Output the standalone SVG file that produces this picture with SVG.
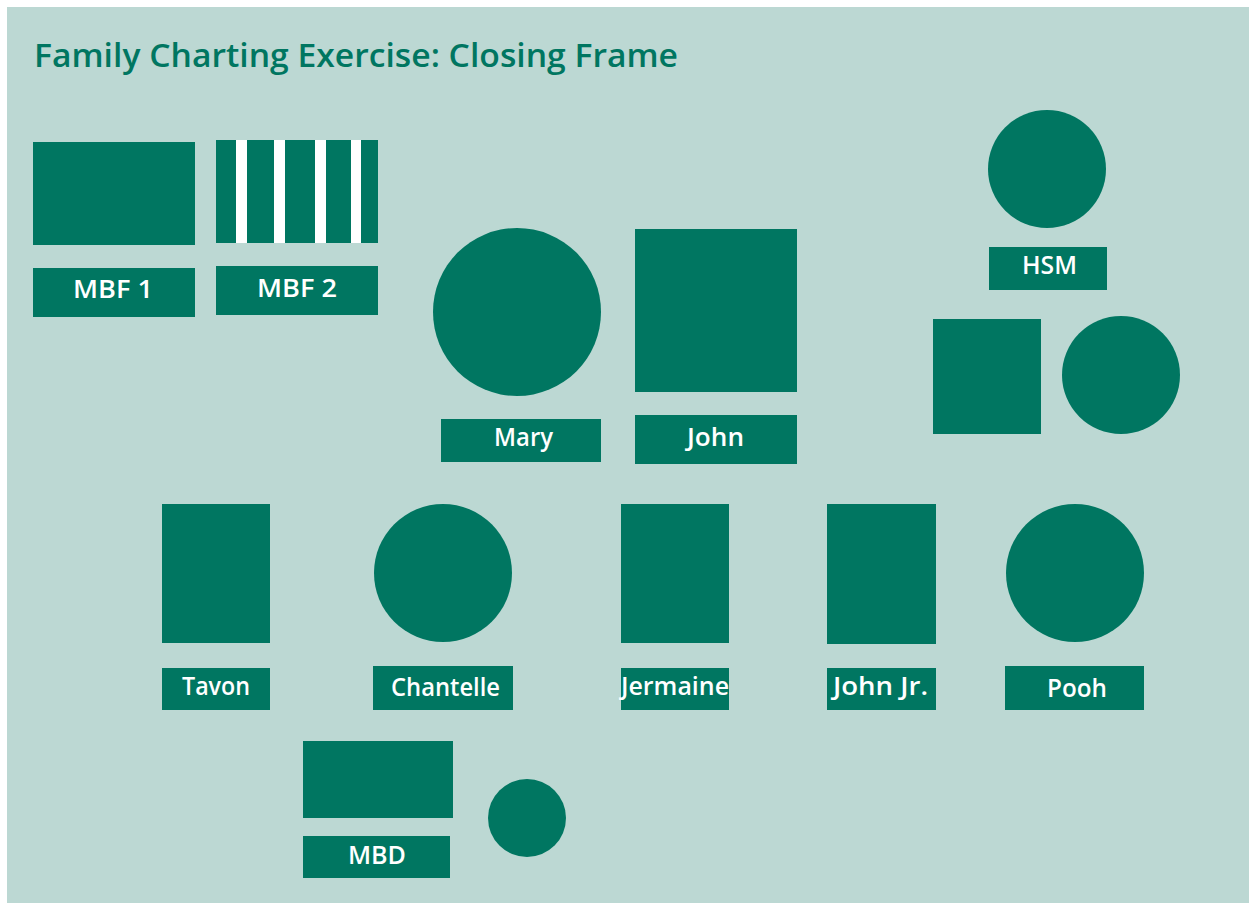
<svg xmlns="http://www.w3.org/2000/svg" width="1249" height="903" viewBox="0 0 1249 903">
<style>
.s{fill:#007661}
.w{fill:#ffffff}
.t{font-family:"Open Sans","Noto Sans","Liberation Sans",sans-serif;font-weight:600;font-size:26px;fill:#ffffff;text-anchor:middle}
.title{font-family:"Open Sans","Noto Sans","Liberation Sans",sans-serif;font-weight:600;font-size:33px;fill:#007661}
</style>
<rect x="0" y="0" width="1249" height="903" fill="#ffffff"/>
<rect x="7" y="7" width="1242" height="896" fill="#bcd8d3"/>
<text class="title" x="34" y="67" textLength="644" lengthAdjust="spacingAndGlyphs">Family Charting Exercise: Closing Frame</text>
<g id="connectors"></g>
<g id="mbf1">
<rect class="s" x="33" y="142" width="162" height="103"/>
<rect class="s" x="33" y="268" width="162" height="49"/>
<text class="t" x="113" y="298" textLength="80" lengthAdjust="spacingAndGlyphs">MBF 1</text>
</g>
<g id="mbf2">
<rect class="s" x="216" y="140" width="162" height="103"/>
<rect class="w" x="236" y="140" width="11" height="103"/>
<rect class="w" x="274" y="140" width="11" height="103"/>
<rect class="w" x="315" y="140" width="11" height="103"/>
<rect class="w" x="351" y="140" width="10" height="103"/>
<rect class="s" x="216" y="266" width="162" height="49"/>
<text class="t" x="297" y="297" textLength="80" lengthAdjust="spacingAndGlyphs">MBF 2</text>
</g>
<g id="mary">
<circle class="s" cx="517" cy="312" r="84"/>
<rect class="s" x="441" y="419" width="160" height="43"/>
<text class="t" x="523.5" y="446" textLength="59" lengthAdjust="spacingAndGlyphs">Mary</text>
</g>
<g id="john">
<rect class="s" x="635" y="229" width="162" height="163"/>
<rect class="s" x="635" y="415" width="162" height="49"/>
<text class="t" x="715.5" y="446" textLength="57" lengthAdjust="spacingAndGlyphs">John</text>
</g>
<g id="hsm">
<circle class="s" cx="1047" cy="169" r="59"/>
<rect class="s" x="989" y="247" width="118" height="43"/>
<text class="t" x="1049.5" y="274" textLength="55" lengthAdjust="spacingAndGlyphs">HSM</text>
</g>
<g id="hsm-male">
<rect class="s" x="933" y="319" width="108" height="115"/>
</g>
<g id="hsm-female">
<circle class="s" cx="1121" cy="375" r="59"/>
</g>
<g id="tavon">
<rect class="s" x="162" y="504" width="108" height="139"/>
<rect class="s" x="162" y="668" width="108" height="42"/>
<text class="t" x="216" y="695" textLength="68" lengthAdjust="spacingAndGlyphs">Tavon</text>
</g>
<g id="chantelle">
<circle class="s" cx="443" cy="573" r="69"/>
<rect class="s" x="373" y="666" width="140" height="44"/>
<text class="t" x="445.5" y="696" textLength="109" lengthAdjust="spacingAndGlyphs">Chantelle</text>
</g>
<g id="jermaine">
<rect class="s" x="621" y="504" width="108" height="139"/>
<rect class="s" x="621" y="668" width="108" height="42"/>
<text class="t" x="675" y="695" textLength="108" lengthAdjust="spacingAndGlyphs">Jermaine</text>
</g>
<g id="john-jr">
<rect class="s" x="827" y="504" width="109" height="140"/>
<rect class="s" x="827" y="668" width="109" height="42"/>
<text class="t" x="880.5" y="695" textLength="95" lengthAdjust="spacingAndGlyphs">John Jr.</text>
</g>
<g id="pooh">
<circle class="s" cx="1075" cy="573" r="69"/>
<rect class="s" x="1005" y="666" width="139" height="44"/>
<text class="t" x="1077" y="697" textLength="60" lengthAdjust="spacingAndGlyphs">Pooh</text>
</g>
<g id="mbd">
<rect class="s" x="303" y="741" width="150" height="77"/>
<rect class="s" x="303" y="836" width="147" height="42"/>
<text class="t" x="377" y="864" textLength="58" lengthAdjust="spacingAndGlyphs">MBD</text>
</g>
<g id="mbd-female">
<circle class="s" cx="527" cy="818" r="39"/>
</g>
</svg>
